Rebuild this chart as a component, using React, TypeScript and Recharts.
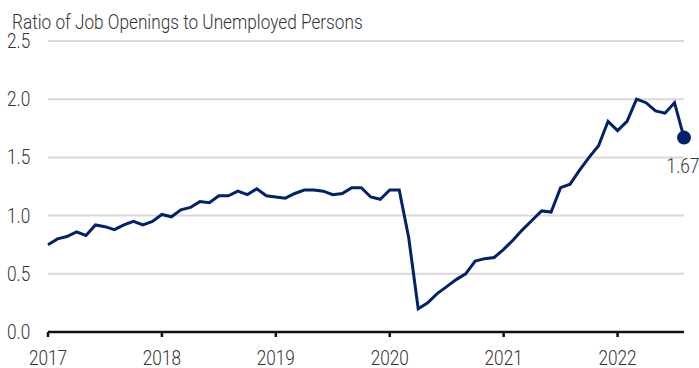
import { CartesianGrid, Line, LineChart, XAxis, YAxis } from 'recharts';

const NAVY = '#012169';
const TEXT = '#333333';
const FONT = 'Roboto, sans-serif';
const FS = 21;
const SQUEEZE = 0.82; // reference face is condensed

// monthly ratio, Jan 2017 .. Aug 2022
const y2017 = [0.75, 0.8, 0.82, 0.86, 0.83, 0.92, 0.905, 0.88, 0.92, 0.95, 0.92, 0.95];
const y2018 = [1.01, 0.99, 1.05, 1.07, 1.12, 1.11, 1.17, 1.17, 1.21, 1.18, 1.23, 1.17];
const y2019 = [1.16, 1.15, 1.19, 1.22, 1.22, 1.21, 1.18, 1.19, 1.24, 1.24, 1.16, 1.14];
const y2020 = [1.22, 1.22, 0.81, 0.2, 0.25, 0.33, 0.39, 0.45, 0.5, 0.61, 0.63, 0.64];
const y2021 = [0.71, 0.79, 0.88, 0.96, 1.04, 1.03, 1.24, 1.27, 1.39, 1.5, 1.6, 1.81];
const y2022 = [1.73, 1.81, 2.0, 1.97, 1.9, 1.88, 1.97, 1.67];

const years = [2017, 2018, 2019, 2020, 2021, 2022];
const yTicks = [0, 0.5, 1, 1.5, 2, 2.5];
const title = 'Ratio of Job Openings to Unemployed Persons';
const lastLabel = '1.67';

const values = [...y2017, ...y2018, ...y2019, ...y2020, ...y2021, ...y2022];
const data = values.map((v, i) => ({ m: i, ratio: v }));
const lastIdx = data.length - 1;

function CText({ x, y, anchor = 'start', children }: any) {
  return (
    <text
      transform={`translate(${x},${y}) scale(${SQUEEZE},1)`}
      textAnchor={anchor}
      fill={TEXT}
      fontSize={FS}
      fontWeight={300}
      fontFamily={FONT}
    >
      {children}
    </text>
  );
}

function EndDot(props: any) {
  const { cx, cy, index } = props;
  if (index !== lastIdx) return null;
  return (
    <g>
      <circle cx={cx} cy={cy} r={7} fill={NAVY} />
      <CText x={cx - 1} y={cy + 35} anchor="middle">
        {lastLabel}
      </CText>
    </g>
  );
}

function YTick(props: any) {
  const { y, payload } = props;
  return (
    <CText x={7} y={y + 7}>
      {payload.value.toFixed(1)}
    </CText>
  );
}

function XTick(props: any) {
  const { x, payload } = props;
  return (
    <CText x={x} y={365} anchor="middle">
      {String(years[payload.value / 12])}
    </CText>
  );
}

export default function App() {
  return (
    <div style={{ position: 'absolute', left: 0, top: 0, width: 699, height: 368, background: '#fff' }}>
      <svg width={699} height={40} style={{ position: 'absolute', left: 0, top: 0 }}>
        <CText x={12} y={29}>
          {title}
        </CText>
      </svg>
      <LineChart width={699} height={368} data={data} margin={{ top: 41, right: 15, bottom: 0, left: 0 }}>
        <CartesianGrid vertical={false} stroke="#d9d9d9" strokeWidth={2} />
        <XAxis
          dataKey="m"
          type="number"
          domain={[0, lastIdx]}
          ticks={years.map((_, i) => i * 12)}
          height={36}
          axisLine={{ stroke: '#111', strokeWidth: 2.5 }}
          tickLine={{ stroke: '#111', strokeWidth: 2.5 }}
          tickSize={5}
          tick={<XTick />}
        />
        <YAxis
          type="number"
          domain={[0, 2.5]}
          ticks={yTicks}
          width={48}
          axisLine={false}
          tickLine={false}
          tick={<YTick />}
        />
        <Line
          dataKey="ratio"
          type="linear"
          stroke={NAVY}
          strokeWidth={3}
          dot={<EndDot />}
          activeDot={false}
          isAnimationActive={false}
        />
      </LineChart>
    </div>
  );
}
